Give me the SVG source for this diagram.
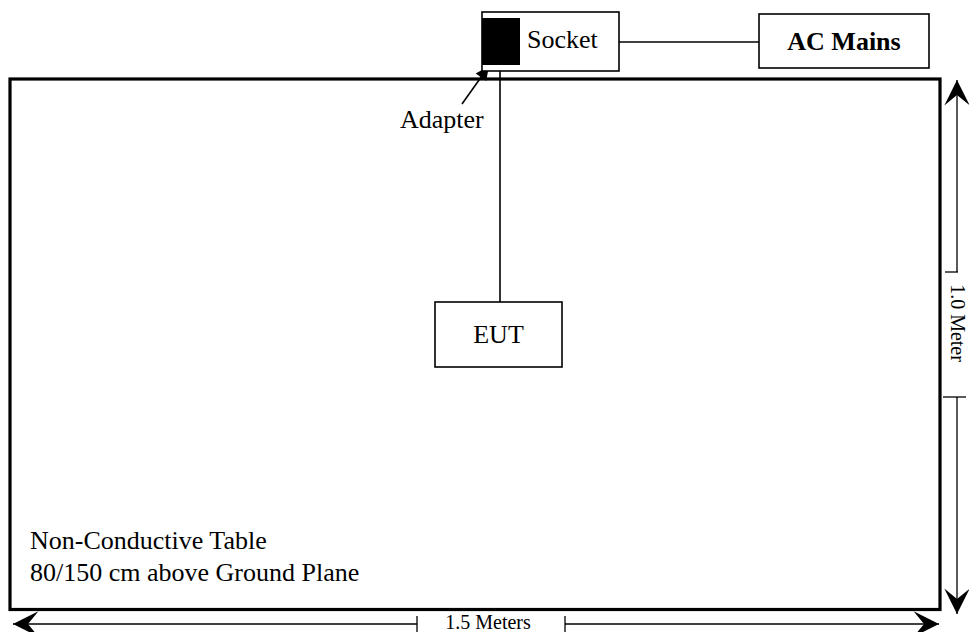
<svg xmlns="http://www.w3.org/2000/svg" width="969" height="632" viewBox="0 0 969 632">
<style>
text{font-family:"Liberation Serif","Times New Roman",serif;fill:#000}
.lbl{font-size:26px}
.dim{font-size:20px}
.box{fill:#fff;stroke:#000;stroke-width:1.6}
.ln{stroke:#000;stroke-width:1.6;fill:none}
.dl{stroke:#000;stroke-width:1.3;fill:none}
</style>
<defs>
<marker id="stealth" markerUnits="userSpaceOnUse" markerWidth="30" markerHeight="30" viewBox="-24 -13 26 26" refX="0" refY="0" orient="auto-start-reverse">
<path d="M0,0 L-22,-11 L-13,0 L-22,11 Z" fill="#000"/>
</marker>
<marker id="tri" markerUnits="userSpaceOnUse" markerWidth="16" markerHeight="16" viewBox="-14 -7 15 14" refX="0" refY="0" orient="auto">
<path d="M0,0 L-13,-6 L-13,6 Z" fill="#000"/>
</marker>
</defs>
<g id="table">
<rect x="10" y="79" width="930" height="530.5" fill="#fff" stroke="#000" stroke-width="3.2"/>
<text class="lbl" x="30" y="549">Non-Conductive Table</text>
<text class="lbl" x="30" y="581">80/150 cm above Ground Plane</text>
</g>
<g id="connectors">
<line class="ln" x1="619" y1="42" x2="759" y2="42"/>
<line class="ln" x1="500" y1="65" x2="500" y2="302"/>
<line class="ln" x1="462" y1="104" x2="489" y2="66" stroke-width="2.6" marker-end="url(#tri)"/>
</g>
<g id="socket">
<rect class="box" x="482" y="12" width="137" height="59"/>
<text class="lbl" x="527" y="48">Socket</text>
</g>
<g id="adapter">
<rect x="482" y="18" width="38" height="47" fill="#000"/>
<text class="lbl" x="400" y="128">Adapter</text>
</g>
<g id="ac-mains">
<rect class="box" x="759" y="14" width="170" height="54"/>
<text class="lbl" x="844" y="50" text-anchor="middle" font-weight="bold">AC Mains</text>
</g>
<g id="eut">
<rect class="box" x="435" y="302" width="127" height="65"/>
<text class="lbl" x="498.5" y="343" text-anchor="middle">EUT</text>
</g>
<g id="dimensions">
<line class="dl" x1="957" y1="272" x2="957" y2="80" marker-end="url(#stealth)"/>
<line class="dl" x1="945" y1="272" x2="958" y2="272"/>
<line class="dl" x1="957" y1="397" x2="957" y2="614" marker-end="url(#stealth)"/>
<line class="dl" x1="943" y1="397" x2="966" y2="397"/>
<text class="dim" transform="translate(951,323) rotate(90)" text-anchor="middle">1.0 Meter</text>
<line class="dl" x1="417" y1="624" x2="13" y2="624" marker-end="url(#stealth)"/>
<line class="dl" x1="417" y1="616" x2="417" y2="632"/>
<line class="dl" x1="565" y1="624" x2="939" y2="624" marker-end="url(#stealth)"/>
<line class="dl" x1="565" y1="616" x2="565" y2="632"/>
<text class="dim" x="488" y="628.5" text-anchor="middle">1.5 Meters</text>
</g>
</svg>
